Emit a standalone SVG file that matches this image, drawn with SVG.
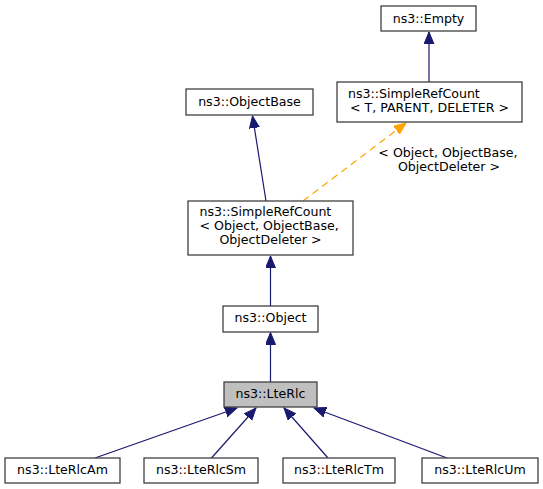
<svg xmlns="http://www.w3.org/2000/svg" width="543" height="489" viewBox="0 0 543 489">
<style>
  .box { fill: #ffffff; stroke: #404040; stroke-width: 1.3; }
  .cur { fill: #bfbfbf; stroke: #404040; stroke-width: 1.3; }
  text { font-family: "DejaVu Sans", "Liberation Sans", sans-serif; font-size: 12.6px; fill: #000000; }
  .c { text-anchor: middle; }
  .s { text-anchor: start; }
  .edge { fill: none; stroke: #191970; stroke-width: 1.2; }
  .tmpl { fill: none; stroke: #ffa500; stroke-width: 1.2; stroke-dasharray: 7,5; }
</style>
<defs>
  <marker id="ab" markerUnits="userSpaceOnUse" markerWidth="13" markerHeight="11" refX="12" refY="5" orient="auto" viewBox="0 0 13 11">
    <path d="M0,0 L12,5 L0,10 Z" fill="#191970" stroke="#191970" stroke-width="1"/>
  </marker>
  <marker id="ao" markerUnits="userSpaceOnUse" markerWidth="13" markerHeight="11" refX="12" refY="5" orient="auto" viewBox="0 0 13 11">
    <path d="M0,0 L12,5 L0,10 Z" fill="#ffa500" stroke="#ffa500" stroke-width="1"/>
  </marker>
</defs>
<rect width="543" height="489" fill="#ffffff"/>
<g id="connectors">
  <line class="edge" x1="429" y1="82" x2="429" y2="32" marker-end="url(#ab)"/>
  <line class="edge" x1="266" y1="201" x2="252.5" y2="116" marker-end="url(#ab)"/>
  <line class="tmpl" x1="303" y1="201" x2="406" y2="123" marker-end="url(#ao)"/>
  <text class="c" x="448" y="157">&lt; Object, ObjectBase,</text>
  <text class="c" x="449" y="171">ObjectDeleter &gt;</text>
  <line class="edge" x1="270.5" y1="306" x2="270.5" y2="256" marker-end="url(#ab)"/>
  <line class="edge" x1="270.5" y1="382" x2="270.5" y2="332.5" marker-end="url(#ab)"/>
  <line class="edge" x1="95" y1="458" x2="237" y2="408" marker-end="url(#ab)"/>
  <line class="edge" x1="211.5" y1="458" x2="256" y2="408" marker-end="url(#ab)"/>
  <line class="edge" x1="328" y1="458" x2="284" y2="408" marker-end="url(#ab)"/>
  <line class="edge" x1="447" y1="458" x2="314" y2="408" marker-end="url(#ab)"/>
</g>
<g id="node-empty">
  <rect class="box" x="381" y="6" width="95" height="25"/>
  <text class="c" x="428.5" y="22.5">ns3::Empty</text>
</g>
<g id="node-simplerefcount-t">
  <rect class="box" x="337" y="82" width="185" height="40"/>
  <text class="s" x="348" y="98">ns3::SimpleRefCount</text>
  <text class="c" x="429.5" y="112">&lt; T, PARENT, DELETER &gt;</text>
</g>
<g id="node-objectbase">
  <rect class="box" x="186" y="89" width="127" height="26"/>
  <text class="c" x="249.5" y="106">ns3::ObjectBase</text>
</g>
<g id="node-simplerefcount-object">
  <rect class="box" x="188" y="201" width="165" height="54"/>
  <text class="s" x="199.5" y="216">ns3::SimpleRefCount</text>
  <text class="s" x="199.5" y="230">&lt; Object, ObjectBase,</text>
  <text class="c" x="270.5" y="244">ObjectDeleter &gt;</text>
</g>
<g id="node-object">
  <rect class="box" x="223" y="306" width="95" height="26"/>
  <text class="c" x="270.5" y="322">ns3::Object</text>
</g>
<g id="node-lterlc">
  <rect class="cur" x="224" y="382" width="93" height="25"/>
  <text class="c" x="270.5" y="398">ns3::LteRlc</text>
</g>
<g id="node-lterlcam">
  <rect class="box" x="5" y="458" width="115" height="25"/>
  <text class="c" x="62.5" y="474">ns3::LteRlcAm</text>
</g>
<g id="node-lterlcsm">
  <rect class="box" x="144" y="458" width="114" height="25"/>
  <text class="c" x="201" y="474">ns3::LteRlcSm</text>
</g>
<g id="node-lterlctm">
  <rect class="box" x="283" y="458" width="112" height="25"/>
  <text class="c" x="339" y="474">ns3::LteRlcTm</text>
</g>
<g id="node-lterlcum">
  <rect class="box" x="422" y="458" width="116" height="25"/>
  <text class="c" x="480" y="474">ns3::LteRlcUm</text>
</g>
</svg>
